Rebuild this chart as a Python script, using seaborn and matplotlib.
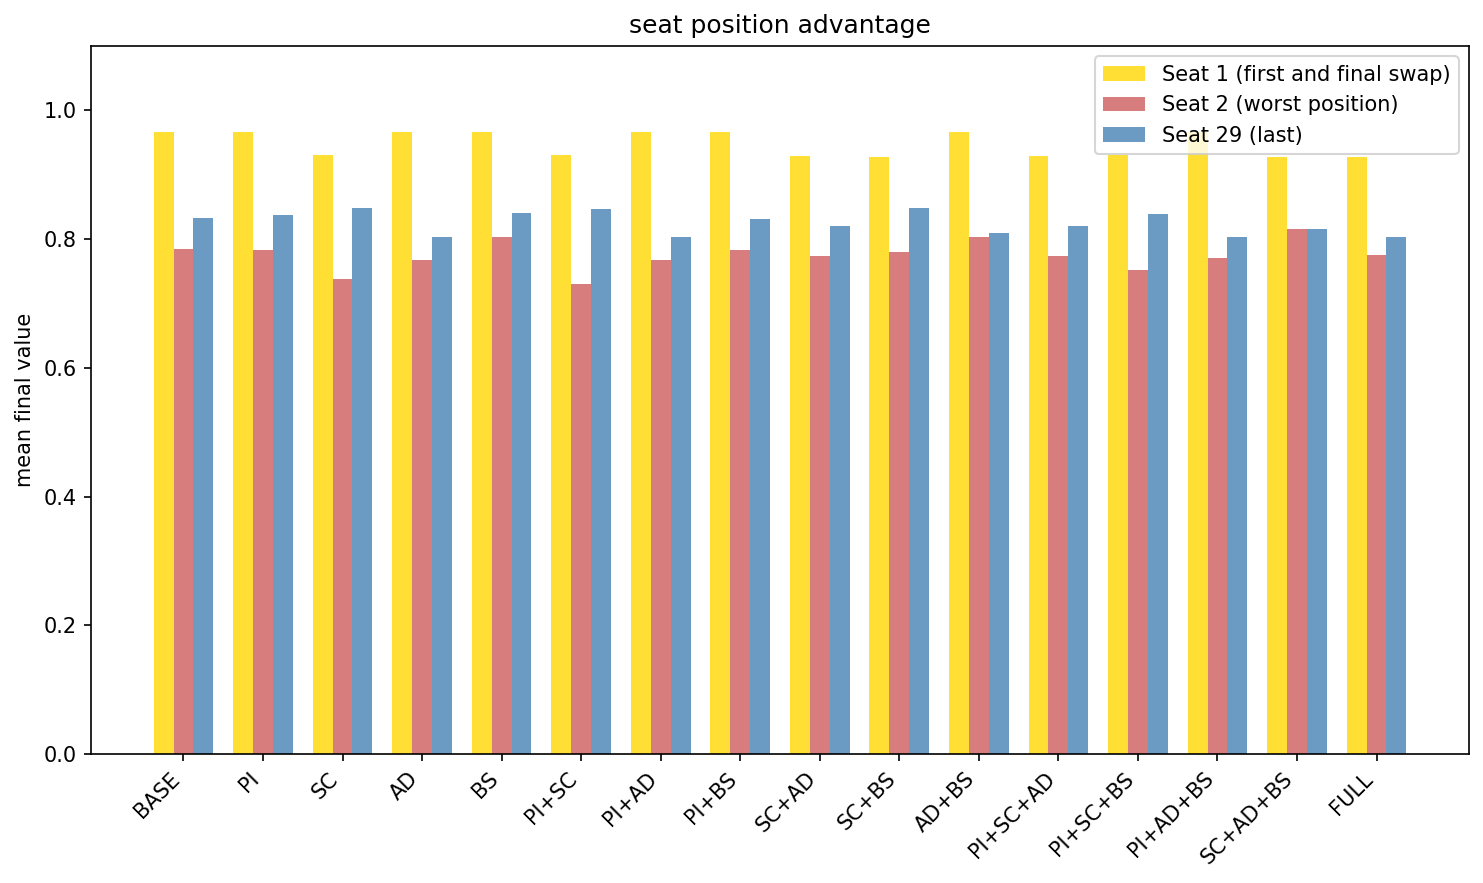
import pandas as pd
import numpy as np
import matplotlib.pyplot as plt
import seaborn as sns

# =====================================================
# DATA
# =====================================================

configs = [
    "BASE", "PI", "SC", "AD", "BS",
    "PI+SC", "PI+AD", "PI+BS", "SC+AD", "SC+BS", "AD+BS",
    "PI+SC+AD", "PI+SC+BS", "PI+AD+BS", "SC+AD+BS", "FULL",
]

seat1 = [0.966, 0.967, 0.930, 0.966, 0.967, 0.930, 0.966, 0.967,
         0.929, 0.927, 0.967, 0.929, 0.930, 0.967, 0.927, 0.927]

seat2 = [0.784, 0.783, 0.738, 0.767, 0.803, 0.731, 0.767, 0.783,
         0.773, 0.780, 0.804, 0.773, 0.752, 0.770, 0.815, 0.775]

seat29 = [0.832, 0.837, 0.849, 0.803, 0.840, 0.846, 0.803, 0.831,
          0.821, 0.849, 0.809, 0.821, 0.839, 0.804, 0.815, 0.803]

series_names = [
    "Seat 1 (first and final swap)",
    "Seat 2 (worst position)",
    "Seat 29 (last)",
]

colors = ["gold", "indianred", "steelblue"]

# long format for seaborn

df = pd.DataFrame({
    "config": configs * 3,
    "value": seat1 + seat2 + seat29,
    "seat": np.repeat(series_names, len(configs)),
})

# =====================================================
# PLOT
# =====================================================

fig, ax = plt.subplots(
    figsize=(1483 / 150, 883 / 150),
    dpi=150
)

sns.barplot(
    data=df,
    x="config",
    y="value",
    hue="seat",
    hue_order=series_names,
    order=configs,
    palette=colors,
    saturation=1,
    alpha=0.8,
    width=0.75,
    errorbar=None,
    ax=ax
)

n = len(configs)
pad = 0.05 * (n - 1 + 0.75)
ax.set_xlim(-0.375 - pad, n - 1 + 0.375 + pad)
ax.set_ylim(0, 1.1)

ax.set_title("seat position advantage")
ax.set_xlabel("")
ax.set_ylabel("mean final value")

plt.setp(
    ax.get_xticklabels(),
    rotation=45,
    ha="right",
    rotation_mode="default"
)

handles, labels = ax.get_legend_handles_labels()
for h in handles:
    h.set_alpha(0.8)
ax.legend(handles, labels, loc="upper right")

fig.subplots_adjust(
    left=91 / 1483,
    right=1469 / 1483,
    top=1 - 46 / 883,
    bottom=1 - 754 / 883
)

plt.savefig("out.png", dpi=150)
plt.close()
